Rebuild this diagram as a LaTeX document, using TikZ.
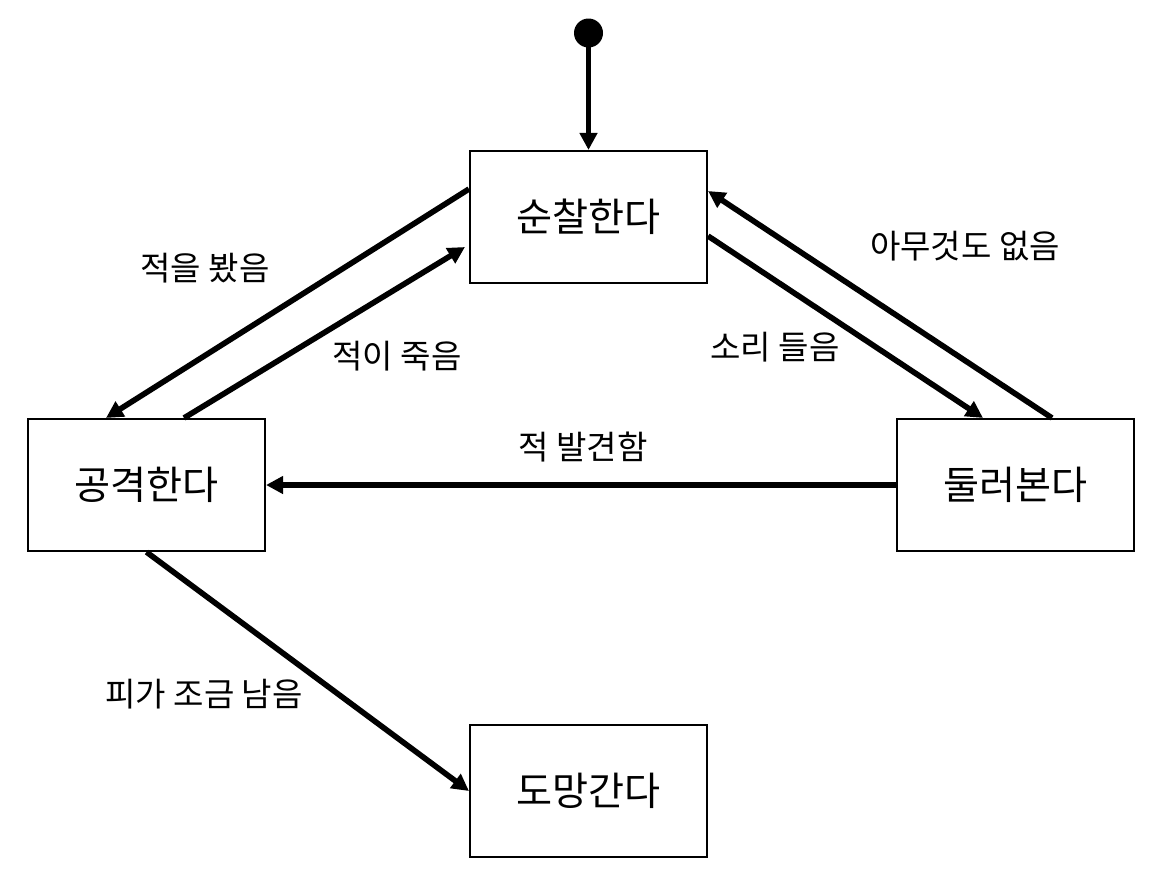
\documentclass[tikz,border=0pt]{standalone}
\usepackage{fontspec}
\setmainfont{Noto Sans CJK KR}
\usetikzlibrary{arrows.meta}
\tikzset{
  state/.style={draw, line width=1.2pt, minimum width=4.74cm, minimum height=2.64cm, inner sep=0pt, font=\fontsize{22.3}{26}\selectfont},
  trans/.style={line width=3.2pt, -{Triangle[length=0.34cm,width=0.34cm]}},
  lbl/.style={font=\fontsize{18.8}{22}\selectfont, inner sep=0pt},
}
\begin{document}
\begin{tikzpicture}[x=0.02cm,y=-0.02cm]
\useasboundingbox (0,0) rectangle (1168,873);
\fill (588.5,33) circle (14.5);
\node[circle, minimum size=0.58cm, inner sep=0pt] (start) at (588.5,33) {};
\node[state] (patrol) at (588.5,217) {순찰한다};
\node[state] (attack) at (146.5,485) {공격한다};
\node[state] (look) at (1015.5,485) {둘러본다};
\node[state] (flee) at (588.5,791) {도망간다};
\draw[trans] (start.center) -- (patrol.north);
\draw[trans] (patrol.west |- 0,189) -- (attack.north -| 106,0);
\draw[trans] (attack.north -| 184,0) -- (465,247) coordinate (p1);
\draw[trans] (patrol.east |- 0,236) -- (look.north -| 983,0);
\draw[trans] (look.north -| 1052,0) -- (patrol.east |- 0,191);
\draw[trans] (look.west) -- (attack.east);
\draw[trans] (attack.south) -- (flee.west);
\node[lbl] (l1) at (205,268) {적을 봤음};
\node[lbl] (l2) at (397,356) {적이 죽음};
\node[lbl] (l3) at (775,347) {소리 들음};
\node[lbl] (l4) at (965,246) {아무것도 없음};
\node[lbl] (l5) at (583,447) {적 발견함};
\node[lbl] (l6) at (204,694) {피가 조금 남음};
\end{tikzpicture}
\end{document}
